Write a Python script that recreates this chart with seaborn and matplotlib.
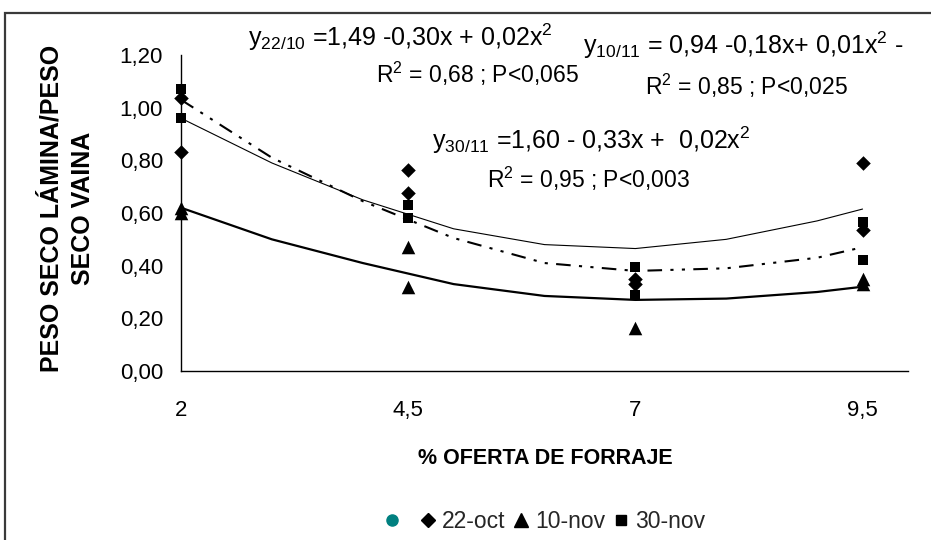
import numpy as np
import pandas as pd
import matplotlib
matplotlib.use("Agg")
import matplotlib.pyplot as plt
from matplotlib.lines import Line2D
from matplotlib.patches import Rectangle
import seaborn as sns

# ---------------- data ----------------
x_ticks = [2, 4.5, 7, 9.5]
x_tick_labels = ["2", "4,5", "7", "9,5"]
y_ticks = [0.0, 0.2, 0.4, 0.6, 0.8, 1.0, 1.2]
y_tick_labels = ["0,00", "0,20", "0,40", "0,60", "0,80", "1,00", "1,20"]

x_oct22 = [2, 2, 4.5, 4.5, 7, 7, 9.5, 9.5]
y_oct22 = [1.035, 0.83, 0.765, 0.675, 0.35, 0.33, 0.79, 0.535]
x_nov10 = [2, 2, 4.5, 4.5, 7, 9.5, 9.5]
y_nov10 = [0.62, 0.60, 0.47, 0.32, 0.165, 0.35, 0.33]
x_nov30 = [2, 2, 4.5, 4.5, 7, 7, 9.5, 9.5]
y_nov30 = [1.07, 0.96, 0.63, 0.58, 0.395, 0.29, 0.565, 0.42]

curve_x = [2, 3, 4, 5, 6, 7, 8, 9, 9.5]
fit_oct22 = [0.96, 0.79, 0.65, 0.54, 0.48, 0.465, 0.50, 0.57, 0.615]
fit_nov30 = [1.03, 0.81, 0.645, 0.505, 0.41, 0.38, 0.39, 0.43, 0.47]
fit_nov10 = [0.62, 0.50, 0.41, 0.33, 0.285, 0.27, 0.275, 0.30, 0.32]

series_labels = ["22-oct", "10-nov", "30-nov"]

# ---------------- styling ----------------
sns.set_theme(style="white")
plt.rcParams["font.family"] = ["Liberation Sans", "DejaVu Sans"]
plt.rcParams["mathtext.fontset"] = "custom"
plt.rcParams["mathtext.rm"] = "Liberation Sans"

W, H = 931, 540
fig = plt.figure(figsize=(W / 100, H / 100), dpi=100)
fig.patch.set_facecolor("white")
ax = fig.add_axes([181 / W, 1 - 371 / H, (908 - 181) / W, (371 - 55) / H])
ax.set_facecolor("white")

pts = pd.DataFrame({
    "x": x_oct22 + x_nov10 + x_nov30,
    "y": y_oct22 + y_nov10 + y_nov30,
    "serie": [series_labels[0]] * len(x_oct22) + [series_labels[1]] * len(x_nov10)
             + [series_labels[2]] * len(x_nov30),
})
curves = pd.DataFrame({
    "x": curve_x * 3,
    "y": fit_oct22 + fit_nov10 + fit_nov30,
    "serie": [series_labels[0]] * len(curve_x) + [series_labels[1]] * len(curve_x)
             + [series_labels[2]] * len(curve_x),
})

# trend lines
sns.lineplot(data=curves[curves.serie == "22-oct"], x="x", y="y", ax=ax,
             color="black", lw=0.8, estimator=None, sort=False)
sns.lineplot(data=curves[curves.serie == "10-nov"], x="x", y="y", ax=ax,
             color="black", lw=1.6, estimator=None, sort=False)
sns.lineplot(data=curves[curves.serie == "30-nov"], x="x", y="y", ax=ax,
             color="black", lw=1.5, estimator=None, sort=False,
             linestyle=(0, (7, 4, 1.5, 4, 1.5, 4)))

# points
marker_map = {"22-oct": "D", "10-nov": "^", "30-nov": "s"}
size_map = {"22-oct": 55, "10-nov": 95, "30-nov": 62}
for s in series_labels:
    sns.scatterplot(data=pts[pts.serie == s], x="x", y="y", ax=ax,
                    marker=marker_map[s], s=size_map[s], color="black",
                    edgecolor="black", linewidth=0, clip_on=False, zorder=5,
                    legend=False)

ax.set_xlim(2, 10)
ax.set_ylim(0, 1.2)
ax.set_xticks(x_ticks)
ax.set_xticklabels(x_tick_labels)
ax.set_yticks(y_ticks)
ax.set_yticklabels(y_tick_labels)
ax.set_xlabel("")
ax.set_ylabel("")
for side in ["top", "right"]:
    ax.spines[side].set_visible(False)
for side in ["left", "bottom"]:
    ax.spines[side].set_color("black")
    ax.spines[side].set_linewidth(1.0)
ax.tick_params(axis="both", direction="out", length=5, width=1, color="black",
               labelsize=16, labelcolor="black")
ax.tick_params(axis="x", pad=16)
ax.tick_params(axis="y", pad=8)

# axis labels
fig.text(545 / W, 1 - 458 / H, "% OFERTA DE FORRAJE", ha="center", va="center",
         fontsize=15.5, fontweight="bold", color="black")
fig.text(67 / W, 1 - 208 / H, "PESO SECO LÁMINA/PESO\nSECO VAINA", rotation=90,
         ha="center", va="center", multialignment="center", fontsize=18,
         fontweight="bold", color="black", linespacing=1.4)

# equations
eq_kw = dict(fontsize=18, color="black", ha="left", va="center")
r_kw = dict(fontsize=16.5, color="black", ha="left", va="center")
fig.text(248 / W, 1 - 37 / H, r"y$\mathregular{_{22/10}}$ =1,49 -0,30x + 0,02x$\mathregular{^2}$", **eq_kw)
fig.text(376 / W, 1 - 74 / H, r"R$\mathregular{^2}$ = 0,68 ; P<0,065", **r_kw)
fig.text(583 / W, 1 - 45 / H, r"y$\mathregular{_{10/11}}$ = 0,94 -0,18x+ 0,01x$\mathregular{^2}$ -", **eq_kw)
fig.text(645 / W, 1 - 86 / H, r"R$\mathregular{^2}$ = 0,85 ; P<0,025", **r_kw)
fig.text(432 / W, 1 - 140 / H, r"y$\mathregular{_{30/11}}$ =1,60 - 0,33x +  0,02x$\mathregular{^2}$", **eq_kw)
fig.text(487 / W, 1 - 179 / H, r"R$\mathregular{^2}$ = 0,95 ; P<0,003", **r_kw)

# legend
handles = [
    Line2D([], [], ls="none", marker="o", ms=8, color="#008080"),
    Line2D([], [], ls="none", marker="D", ms=7, color="black"),
    Line2D([], [], ls="none", marker="^", ms=9.5, color="black"),
    Line2D([], [], ls="none", marker="s", ms=7.5, color="black"),
]
labels = [" "] + series_labels
fig.legend(handles, labels, loc="center", bbox_to_anchor=(545 / W, 1 - 522 / H),
           ncol=4, frameon=False, fontsize=16.5, handlelength=0.6,
           handletextpad=0.3, columnspacing=0.4, borderpad=0)

# outer frame
fig.add_artist(Rectangle((5 / W, -0.2), 1.2, (H - 13) / H + 0.2,
                         transform=fig.transFigure, fill=False,
                         edgecolor="#3a3a3a", linewidth=1.6, clip_on=False))

fig.savefig("out.png", dpi=100, facecolor="white")
